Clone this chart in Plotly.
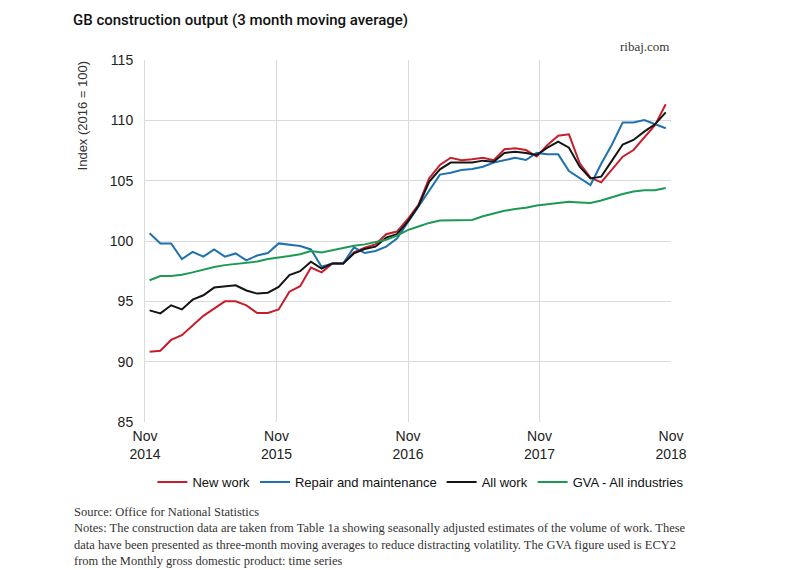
import plotly.graph_objects as go
import numpy as np

# Monthly data, Nov 2014 .. Nov 2018 (49 months), 3-month moving average index (2016 = 100)
months = [f"{m} {y}" for y, m in
          [(2014, "Nov"), (2014, "Dec")] +
          [(yy, mm) for yy in (2015, 2016, 2017) for mm in
           ["Jan", "Feb", "Mar", "Apr", "May", "Jun", "Jul", "Aug", "Sep", "Oct", "Nov", "Dec"]] +
          [(2018, mm) for mm in ["Jan", "Feb", "Mar", "Apr", "May", "Jun", "Jul", "Aug", "Sep", "Oct", "Nov"]]]

new_work = [90.83, 90.9, 91.8, 92.2, 93.0, 93.8, 94.4, 95.0, 95.0, 94.67,
            94.03, 94.03, 94.33, 95.8, 96.25, 97.8, 97.4, 98.14, 98.14, 99.05,
            99.44, 99.72, 100.56, 100.78, 101.8, 103.0, 105.2, 106.3, 106.9, 106.7,
            106.77, 106.9, 106.7, 107.6, 107.68, 107.54, 107.0, 107.96, 108.73, 108.84,
            106.44, 105.25, 104.86, 105.97, 106.99, 107.54, 108.56, 109.6, 111.33]

repair = [100.64, 99.8, 99.8, 98.5, 99.1, 98.7, 99.3, 98.7, 98.97, 98.4,
          98.8, 99.0, 99.8, 99.67, 99.58, 99.3, 97.86, 98.14, 98.14, 99.47,
          99.0, 99.17, 99.53, 100.2, 101.5, 102.8, 104.1, 105.5, 105.66, 105.88,
          105.97, 106.16, 106.5, 106.71, 106.9, 106.71, 107.3, 107.18, 107.18, 105.8,
          105.25, 104.64, 106.4, 108.0, 109.83, 109.83, 110.03, 109.67, 109.34]

all_work = [94.25, 94.0, 94.67, 94.33, 95.14, 95.5, 96.14, 96.25, 96.33, 95.9,
            95.64, 95.72, 96.2, 97.17, 97.5, 98.28, 97.72, 98.14, 98.14, 98.97,
            99.33, 99.53, 100.28, 100.56, 101.6, 102.9, 104.9, 105.94, 106.5, 106.5,
            106.5, 106.66, 106.57, 107.3, 107.4, 107.3, 107.13, 107.73, 108.23, 107.73,
            106.16, 105.19, 105.33, 106.66, 108.0, 108.37, 109.06, 109.67, 110.66]

gva = [96.75, 97.1, 97.1, 97.2, 97.4, 97.65, 97.85, 98.0, 98.1, 98.15,
       98.3, 98.5, 98.6, 98.75, 98.9, 99.17, 99.05, 99.25, 99.44, 99.6,
       99.72, 99.9, 100.1, 100.45, 100.9, 101.2, 101.5, 101.7, 101.7, 101.7,
       101.75, 102.05, 102.3, 102.5, 102.65, 102.76, 102.95, 103.05, 103.2, 103.25,
       103.2, 103.15, 103.35, 103.65, 103.9, 104.1, 104.2, 104.2, 104.4]

series_names = ["New work", "Repair and maintenance", "All work", "GVA - All industries"]
series_colors = ["#c51f2c", "#1f72ad", "#151515", "#1c9a55"]

tick_labels = ["Nov<br>2014", "Nov<br>2015", "Nov<br>2016", "Nov<br>2017", "Nov<br>2018"]
y_ticks = [85, 90, 95, 100, 105, 110, 115]

x = list(range(len(months)))
x_range = [-0.43, len(months) - 1 + 0.49]
x_tickvals = list(np.linspace(x_range[0], x_range[1], len(tick_labels)))

fig = go.Figure()
for name, vals, col in zip(series_names, [new_work, repair, all_work, gva], series_colors):
    fig.add_trace(go.Scatter(x=x, y=vals, name=name, mode="lines",
                             customdata=months,
                             hovertemplate="%{customdata}: %{y}<extra>" + name + "</extra>",
                             line=dict(color=col, width=2)))

grid = "#dadada"
fig.update_layout(
    width=800, height=570,
    margin=dict(l=145, r=129, t=60, b=148, autoexpand=False),
    paper_bgcolor="white", plot_bgcolor="white",
    font=dict(family="Liberation Sans, Arial, sans-serif", color="#222", size=14),
    showlegend=True,
    legend=dict(orientation="h", x=1.035, xanchor="right", y=-0.166, yanchor="middle",
                font=dict(size=13, color="#111"), itemwidth=30,
                bgcolor="rgba(0,0,0,0)"),
    xaxis=dict(range=x_range, tickmode="array", tickvals=x_tickvals, ticktext=tick_labels,
               showgrid=True, gridcolor=grid, gridwidth=1, zeroline=False,
               showline=False, ticks="", tickfont=dict(size=14, color="#222"),
               ticklabelstandoff=4, automargin=False),
    yaxis=dict(range=[85, 115], tickmode="array", tickvals=y_ticks,
               showgrid=True, gridcolor=grid, gridwidth=1, zeroline=False,
               showline=True, linecolor=grid, linewidth=1, ticks="",
               tickfont=dict(size=14, color="#222"), ticklabelstandoff=8,
               automargin=False),
)

fig.add_annotation(text="GB construction output (3 month moving average)",
                   xref="paper", yref="paper", x=-0.141, y=1.0, xanchor="left", yanchor="middle",
                   yshift=40, showarrow=False,
                   font=dict(family="Roboto, sans-serif", size=15, color="#111", weight=500))
fig.add_annotation(text="ribaj.com", xref="paper", yref="paper", x=1.0, y=1.0,
                   xanchor="right", yanchor="middle", yshift=14, showarrow=False,
                   font=dict(family="Liberation Serif, serif", size=13, color="#333"))
fig.add_annotation(text="Index (2016 = 100)", xref="paper", yref="paper", x=-0.119, y=0.848,
                   xanchor="center", yanchor="middle", textangle=-90, showarrow=False,
                   font=dict(size=13, color="#333"))
fig.add_annotation(
    text=("Source: Office for National Statistics<br>"
          "Notes: The construction data are taken from Table 1a showing seasonally adjusted estimates of the volume of work. These<br>"
          "data have been presented as three-month moving averages to reduce distracting volatility. The GVA figure used is ECY2<br>"
          "from the Monthly gross domestic product: time series"),
    xref="paper", yref="paper", x=-0.139, y=-0.224, xanchor="left", yanchor="top",
    align="left", showarrow=False,
    font=dict(family="Liberation Serif, serif", size=12.5, color="#333"))

fig.write_html("out.html", config={"displayModeBar": False},
               post_script="document.body.style.margin='0';document.body.style.padding='0';")
